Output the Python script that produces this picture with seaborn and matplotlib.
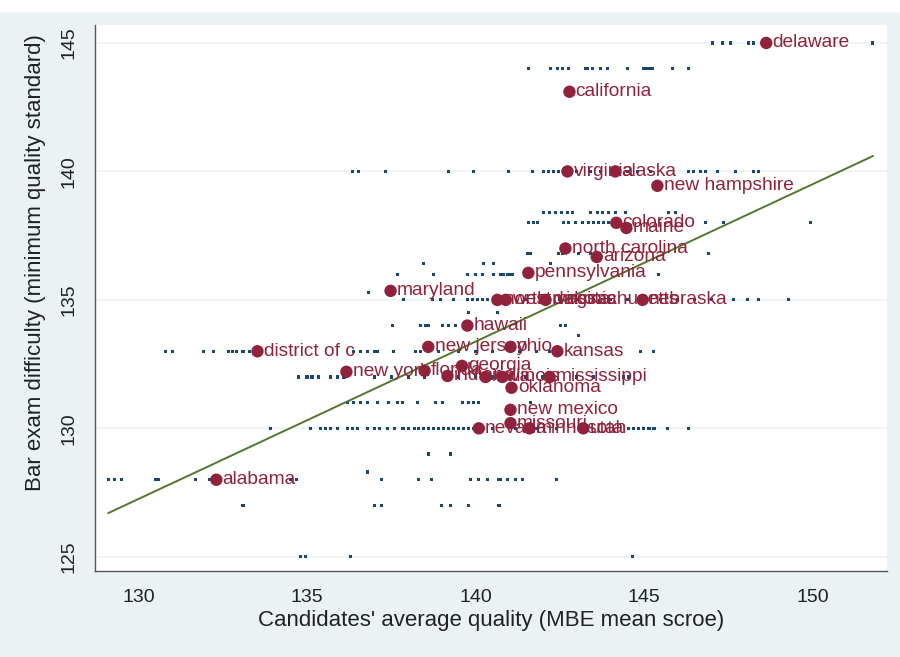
import matplotlib
matplotlib.use('Agg')
import matplotlib.pyplot as plt
import seaborn as sns
import pandas as pd

# state averages (big maroon markers with labels)
state_names = ['delaware', 'california', 'virginia', 'alaska', 'new hampshire',
               'colorado', 'maine', 'north carolina', 'arizona', 'pennsylvania',
               'maryland', 'north dakota', 'west virginia', 'massachusetts', 'nebraska',
               'hawaii', 'district of c', 'new jersey', 'ohio', 'kansas',
               'georgia', 'new york', 'florida', 'indiana', 'iowa', 'illinois',
               'mississippi', 'oklahoma', 'new mexico', 'nevada', 'missouri',
               'minnesota', 'utah', 'alabama']
state_mbe = [148.63, 142.79, 142.73, 144.15, 145.40,
             144.18, 144.48, 142.67, 143.60, 141.57,
             137.48, 140.65, 140.90, 142.08, 144.96,
             139.76, 133.53, 138.60, 141.04, 142.43,
             139.60, 136.17, 138.49, 139.17, 140.30, 140.80,
             142.20, 141.07, 141.04, 140.10, 141.04,
             141.60, 143.20, 132.31]
state_cut = [145.0, 143.1, 140.0, 140.0, 139.44,
             138.0, 137.8, 137.0, 136.67, 136.05,
             135.35, 135.0, 135.0, 135.0, 135.0,
             134.0, 133.0, 133.17, 133.17, 133.0,
             132.43, 132.2, 132.24, 132.04, 132.0, 132.0,
             132.0, 131.58, 130.72, 130.0, 130.2,
             130.0, 130.0, 128.0]

# individual observations (small navy markers), one list per cut score
obs_145 = [147.03, 147.33, 147.57, 148.10, 148.25, 151.78]
obs_144 = [141.57, 142.23, 142.43, 142.58, 142.76, 143.26, 143.32, 143.47, 143.71,
           143.92, 144.51, 144.99, 145.05, 145.10, 145.17, 145.25, 145.85, 146.32]
obs_140 = [136.35, 136.53, 137.33, 139.20, 139.94, 140.98, 141.69, 142.02, 142.17,
           142.31, 142.46, 143.00, 143.40, 143.70, 144.50, 144.80, 145.20, 146.32,
           146.47, 146.68, 146.82, 147.18, 147.72, 148.25, 148.40]
obs_1384 = [142.02, 142.20, 142.37, 142.55, 142.73, 142.88, 143.41, 143.62, 143.77,
            143.95, 144.15, 144.45, 145.73, 145.93]
obs_138 = [141.57, 141.72, 141.84, 142.61, 142.76, 142.97, 143.18, 143.35, 143.50,
           143.65, 143.80, 143.95, 146.82, 147.36, 149.94]
obs_1368 = [141.54, 141.63, 142.46, 142.58, 143.06, 143.41, 146.91]
obs_1364 = [138.46, 140.24, 140.53, 142.23]
obs_136 = [137.69, 138.75, 139.76, 140.00, 140.21, 140.53, 140.74, 140.83, 140.95,
           141.04, 141.10, 145.43]
obs_1353 = [136.83]
obs_135 = [137.86, 138.72, 138.96, 139.35, 139.76, 139.90, 140.05, 140.20, 140.35,
           140.53, 141.00, 141.50, 142.00, 142.50, 143.00, 143.50, 144.00, 144.50,
           145.50, 146.00, 146.50, 147.00, 147.66, 148.07, 148.40, 149.29]
obs_1345 = [139.79, 140.65]
obs_134 = [137.54, 138.37, 138.52, 138.61, 139.02, 139.20, 139.41, 142.52, 142.67]
obs_1336 = [143.06]
obs_133 = [130.80, 131.01, 131.93, 132.23, 132.67, 132.80, 132.90, 133.10, 133.30,
           133.40, 136.38, 136.60, 136.80, 137.00, 137.09, 137.57, 138.22, 138.37,
           138.90, 139.50, 140.00, 140.50, 141.30, 141.80, 142.20, 144.90, 145.28]
obs_132 = [134.75, 135.00, 135.15, 135.34, 135.70, 135.90, 136.10, 137.00, 137.50,
           138.00, 138.50, 139.50, 140.00, 140.50, 141.00, 141.50, 142.00, 143.00,
           143.50, 144.40, 144.54]
obs_131 = [136.20, 136.38, 136.59, 136.80, 137.09, 137.42, 137.69, 137.83, 138.28,
           138.81, 139.02, 139.61, 139.79, 139.94, 140.09, 141.63]
obs_130 = [133.92, 135.10, 135.40, 135.55, 135.70, 135.90, 136.20, 136.35, 136.50,
           136.80, 137.00, 137.15, 137.40, 137.60, 137.85, 138.00, 138.20, 138.30,
           138.45, 138.60, 138.75, 138.90, 139.05, 139.20, 139.35, 139.50, 139.65,
           139.80, 139.95, 140.50, 141.20, 141.80, 142.40, 144.54, 144.70, 144.85,
           145.00, 145.15, 145.30, 145.70, 146.32]
obs_129 = [138.60, 139.26]
obs_1283 = [136.80]
obs_128 = [129.10, 129.30, 129.50, 130.50, 130.60, 131.70, 132.10, 132.20, 134.50,
           134.70, 137.20, 138.30, 138.70, 139.85, 140.10, 140.35, 140.70, 140.74,
           140.96, 141.20, 141.40, 142.40]
obs_127 = [133.10, 137.00, 137.20, 139.00, 139.25, 139.80, 140.70]
obs_125 = [134.80, 134.95, 136.30, 144.66]

# fitted line end points
fit_x = [129.1, 151.8]
fit_y = [126.7, 140.6]

obs_rows = [(145, obs_145), (144, obs_144), (140, obs_140), (138.4, obs_1384),
            (138, obs_138), (136.8, obs_1368), (136.4, obs_1364), (136, obs_136),
            (135.3, obs_1353), (135, obs_135), (134.5, obs_1345), (134, obs_134),
            (133.6, obs_1336), (133, obs_133), (132, obs_132), (131, obs_131),
            (130, obs_130), (129, obs_129), (128.3, obs_1283), (128, obs_128),
            (127, obs_127), (125, obs_125)]
obs = pd.DataFrame([(x, cut) for cut, xs in obs_rows for x in xs],
                   columns=['mbe', 'cut'])
states = pd.DataFrame({'state': state_names, 'mbe': state_mbe, 'cut': state_cut})

navy = '#1A476F'
maroon = '#90233B'
green = '#55752F'

sns.set_style('white')
plt.rcParams['font.family'] = ['Liberation Sans', 'DejaVu Sans']

fig = plt.figure(figsize=(9, 6.57), dpi=100, facecolor='#EAF2F3')
ax = fig.add_axes([0.106, 0.131, 0.879, 0.831])
ax.set_facecolor('white')

for t in [125, 130, 135, 140, 145]:
    ax.axhline(t, color='#EEF2F3', lw=1.2, zorder=0)

sns.scatterplot(data=obs, x='mbe', y='cut', ax=ax, marker='s', s=5,
                color=navy, edgecolor='none', zorder=2)
sns.lineplot(x=fit_x, y=fit_y, ax=ax, color=green, lw=1.4, zorder=3)
sns.scatterplot(data=states, x='mbe', y='cut', ax=ax, s=80, color=maroon,
                edgecolor='none', zorder=4)
for name, x, y in zip(state_names, state_mbe, state_cut):
    ax.annotate(name, (x, y), xytext=(4.5, 0), textcoords='offset points',
                va='center', ha='left', fontsize=13.8, color=maroon, zorder=5)

ax.set_xlim(128.72, 152.2)
ax.set_ylim(124.45, 145.7)
ax.set_xticks([130, 135, 140, 145, 150])
ax.set_yticks([125, 130, 135, 140, 145])
ax.tick_params(axis='both', direction='out', length=7, width=1, color='#555555',
               labelsize=14, labelcolor='#222222', pad=6)
plt.setp(ax.get_yticklabels(), rotation=90, va='center')
for side in ['top', 'right']:
    ax.spines[side].set_visible(False)
for side in ['left', 'bottom']:
    ax.spines[side].set_color('#555555')
    ax.spines[side].set_linewidth(1)

ax.set_xlabel("Candidates' average quality (MBE mean scroe)", fontsize=16,
              color='#222222', labelpad=3)
ax.set_ylabel('Bar exam difficulty (minimum quality standard)', fontsize=16,
              color='#222222')
ax.yaxis.set_label_coords(-0.062, 0.565)

# white strip of the page above the graph
fig.patches.append(plt.Rectangle((0, 0.983), 1, 0.017, transform=fig.transFigure,
                                 color='white', zorder=0))

fig.savefig('out.png', dpi=100, facecolor=fig.get_facecolor())
